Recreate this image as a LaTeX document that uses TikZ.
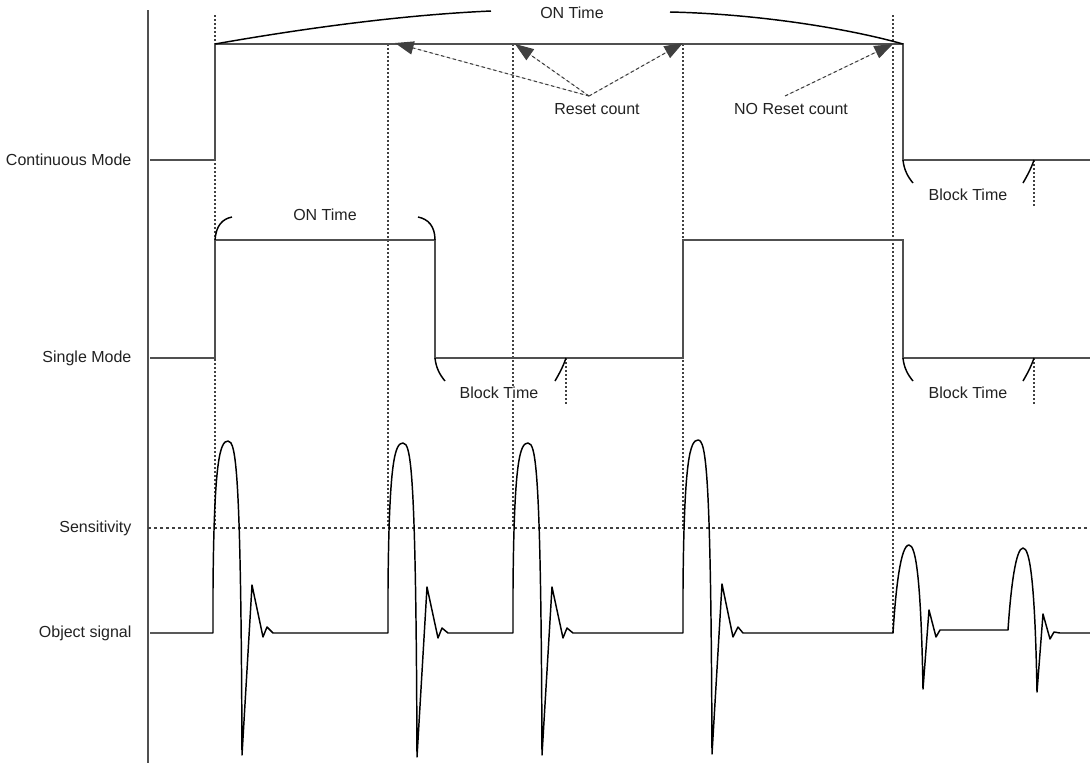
\documentclass[tikz,border=0pt]{standalone}
\usepackage{fontspec}
\setmainfont{Liberation Sans}
\usetikzlibrary{arrows.meta}
\definecolor{ink}{HTML}{222222}
\definecolor{wire}{HTML}{505050}
\definecolor{guide}{HTML}{404040}
\begin{document}
\begin{tikzpicture}[x=0.75pt,y=-0.75pt,
  lbl/.style={font=\fontsize{12}{14}\selectfont, text=ink, inner sep=1pt, fill=white},
  axislbl/.style={lbl, anchor=east},
  level/.style={draw=wire, line width=0.9pt},
  signal/.style={draw=black, line width=1.1pt, line join=round},
  brace/.style={draw=black, line width=1.1pt},
  guideline/.style={draw=guide, line width=0.8pt, dash pattern=on 1.5pt off 1.5pt},
  threshold/.style={draw=guide, line width=0.8pt, dash pattern=on 2.5pt off 2pt},
  pointer/.style={draw=guide, line width=0.8pt, dash pattern=on 2.5pt off 2pt,
    -{Triangle[length=14pt,width=10pt]}, fill=guide}
]
\useasboundingbox (0,0) rectangle (1090,765);

% vertical axis
\draw[draw=wire, line width=0.9pt] (148,10) -- (148,763);

% row labels
\node[axislbl] (lcont) at (133,160) {Continuous Mode};
\node[axislbl] (lsing) at (133,358) {Single Mode};
\node[axislbl] (lsens) at (133,528) {Sensitivity};
\node[axislbl] (lobj)  at (133,633) {Object signal};

% vertical timing guides
\draw[guideline] (215,15) -- (215,528);
\draw[guideline] (388,44) -- (388,528);
\draw[guideline] (513,44) -- (513,528);
\draw[guideline] (683,44) -- (683,528);
\draw[guideline] (893,15) -- (893,633);
\draw[guideline] (566,358) -- (566,405);
\draw[guideline] (1034,160) -- (1034,207);
\draw[guideline] (1034,358) -- (1034,405);

% sensitivity threshold
\draw[threshold] (148,528) -- (1090,528);

% continuous mode output
\draw[level] (150,160) -- (215,160) -- (215,44) -- (903,44) -- (903,160) -- (1090,160);

% single mode output
\draw[level] (150,358) -- (215,358) -- (215,240) -- (435,240) -- (435,358)
  -- (683,358) -- (683,240) -- (903,240) -- (903,358) -- (1090,358);

% ON time span, continuous mode
\node[lbl] (ontop) at (572,13) {ON Time};
\draw[brace] (215,44) .. controls (300,29) and (400,15) .. (491,11);
\draw[brace] (670,12) .. controls (760,14) and (850,29) .. (903,44);

% ON time span, single mode
\node[lbl] (onsing) at (325,215) {ON Time};
\draw[brace] (215,240) .. controls (216,226) and (222,219) .. (232,217);
\draw[brace] (418,217) .. controls (428,219) and (435,226) .. (435,240);

% block time spans
\node[lbl] (blk1) at (499,393) {Block Time};
\draw[brace] (435,358) .. controls (436,368) and (440,375) .. (445,381);
\draw[brace] (566,358) .. controls (563,367) and (559,374) .. (555,381);

\node[lbl] (blk2) at (968,195) {Block Time};
\draw[brace] (903,160) .. controls (904,170) and (908,177) .. (913,183);
\draw[brace] (1034,160) .. controls (1031,169) and (1027,176) .. (1023,183);

\node[lbl] (blk3) at (968,393) {Block Time};
\draw[brace] (903,358) .. controls (904,368) and (908,375) .. (913,381);
\draw[brace] (1034,358) .. controls (1031,367) and (1027,374) .. (1023,381);

% reset annotations
\node[lbl, fill=none] (reset) at (597,109) {Reset count};
\node[lbl, fill=none] (noreset) at (791,109) {NO Reset count};
\coordinate (rsrc) at (589,96);
\coordinate (nrsrc) at (785,96);
\coordinate (r1) at (395,43);
\coordinate (r2) at (515,44);
\coordinate (r3) at (683,43);
\coordinate (r4) at (893,44);
\draw[pointer] (rsrc) -- (r1);
\draw[pointer] (rsrc) -- (r2);
\draw[pointer] (rsrc) -- (r3);
\draw[pointer] (nrsrc) -- (r4);

% object signal
\draw[signal] (150,633) -- (213,633)
  % pulse 1
  -- (213,590) .. controls (214,460) and (220,441) .. (228,441)
  .. controls (236,441) and (241,470) .. (242,755)
  -- (252,585) -- (263,637) -- (267,627) -- (273,633) -- (388,633)
  % pulse 2
  -- (388,590) .. controls (389,460) and (395,443) .. (403,443)
  .. controls (411,443) and (416,470) .. (417,757)
  -- (427,587) -- (438,638) -- (442,628) -- (448,633) -- (513,633)
  % pulse 3
  -- (513,590) .. controls (514,460) and (520,443) .. (528,443)
  .. controls (536,443) and (541,470) .. (542,755)
  -- (552,587) -- (563,638) -- (567,628) -- (573,633) -- (683,633)
  % pulse 4
  -- (683,590) .. controls (684,460) and (690,440) .. (698,440)
  .. controls (706,440) and (711,470) .. (712,754)
  -- (722,584) -- (733,637) -- (738,627) -- (743,633) -- (893,633)
  % pulse 5 (below threshold)
  .. controls (896,585) and (901,545) .. (909,545)
  .. controls (916,545) and (921,580) .. (923,689)
  -- (929,610) -- (936,637) -- (940,630) -- (1008,630)
  % pulse 6 (below threshold)
  .. controls (1011,585) and (1016,548) .. (1023,548)
  .. controls (1030,548) and (1035,583) .. (1037,692)
  -- (1043,614) -- (1050,639) -- (1054,632) -- (1060,633) -- (1090,633);
\end{tikzpicture}
\end{document}
